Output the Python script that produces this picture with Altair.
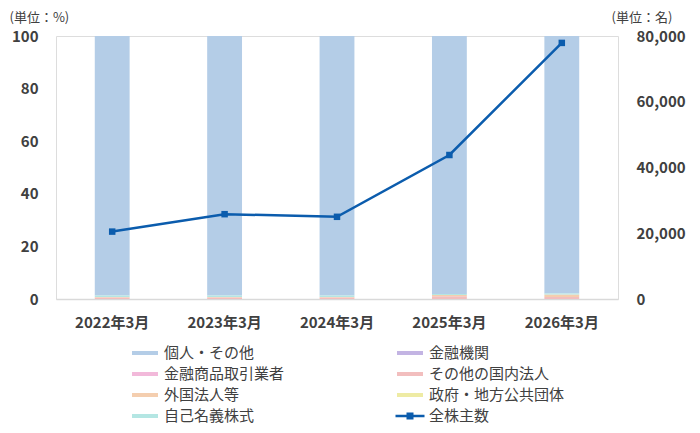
import altair as alt
import pandas as pd

years = ["2022年3月", "2023年3月", "2024年3月", "2025年3月", "2026年3月"]

# shareholder composition (%)
fin_inst = [0.0, 0.0, 0.0, 0.0, 0.0]
securities = [0.0, 0.0, 0.0, 0.0, 0.0]
other_corp = [0.6, 0.6, 0.6, 1.0, 0.8]
foreign = [0.2, 0.2, 0.2, 0.5, 0.9]
government = [0.0, 0.0, 0.0, 0.0, 0.0]
treasury = [0.5, 0.5, 0.5, 0.4, 0.4]
individual = [98.7, 98.7, 98.7, 98.1, 97.9]

# total shareholders (persons)
shareholders = [20500, 25800, 25000, 43800, 77900]

# legend entries, listed column by column (two columns)
legend_names = ["個人・その他", "金融商品取引業者", "外国法人等", "自己名義株式",
                "金融機関", "その他の国内法人", "政府・地方公共団体", "全株主数"]
legend_colors = ["#B4CDE7", "#F2B9DA", "#F4CEAF", "#B4E6E3",
                 "#C3B4E3", "#F2BEBE", "#EEEBA4", "#0B5CAD"]

series_values = {
    "個人・その他": individual,
    "金融機関": fin_inst,
    "金融商品取引業者": securities,
    "その他の国内法人": other_corp,
    "外国法人等": foreign,
    "政府・地方公共団体": government,
    "自己名義株式": treasury,
}
stack_order = {
    "その他の国内法人": 1, "外国法人等": 2, "金融機関": 3, "金融商品取引業者": 4,
    "政府・地方公共団体": 5, "自己名義株式": 6, "個人・その他": 7,
}

rows = []
for name, vals in series_values.items():
    for y, v in zip(years, vals):
        rows.append({"year": y, "series": name, "value": v, "ord": stack_order[name]})
df = pd.DataFrame(rows)
ldf = pd.DataFrame({"year": years, "count": shareholders})
legdf = pd.DataFrame({"series": legend_names})

FONT = "Noto Sans CJK JP"
TXT = "#404040"

rect_path = "M-1.3,-0.2H1.3V0.2H-1.3Z"
line_path = "M-1.45,-0.12H1.45V0.12H-1.45Z M-0.35,-0.35H0.35V0.35H-0.35Z"
legend_shapes = [line_path if n == "全株主数" else rect_path for n in legend_names]

PLOT_H = 263


def make_legend():
    return alt.Legend(
        title=None, orient="none", legendX=79, legendY=307, columns=2,
        columnPadding=110, rowPadding=3, symbolSize=400,
        symbolStrokeWidth=0, symbolOpacity=1, labelOffset=9,
        labelFontSize=15, labelColor=TXT, labelFont=FONT,
    )


color_scale = alt.Scale(domain=legend_names, range=legend_colors)

x_enc = alt.X(
    "year:N", sort=years,
    scale=alt.Scale(paddingInner=0.69, paddingOuter=0.345),
    axis=alt.Axis(title=None, labelAngle=0, ticks=False, domainColor="#D9D9D9",
                  domainWidth=1.5, labelFontSize=15, labelFontWeight="bold",
                  labelColor=TXT, labelPadding=16, labelFont=FONT),
)

bars = alt.Chart(df).mark_bar().encode(
    x=x_enc,
    y=alt.Y(
        "value:Q", stack="zero",
        scale=alt.Scale(domain=[0, 100]),
        axis=alt.Axis(values=[0, 20, 40, 60, 80, 100], grid=False, domain=False,
                      ticks=False, labelPadding=18, labelFontSize=15,
                      labelFontWeight="bold", labelColor=TXT, labelFont=FONT,
                      title="(単位：%)", titleAngle=0, titleAlign="left",
                      titleBaseline="top", titleX=-47, titleY=-25,
                      titleFontSize=13, titleFontWeight="normal",
                      titleColor=TXT, titleFont=FONT),
    ),
    color=alt.Color("series:N", scale=color_scale, legend=make_legend()),
    order=alt.Order("ord:Q", sort="ascending"),
)

line = alt.Chart(ldf).mark_line(
    color="#0B5CAD", strokeWidth=2.5,
    point=alt.OverlayMarkDef(shape="square", filled=True, size=42, color="#0B5CAD", opacity=1),
).encode(
    x=x_enc,
    y=alt.Y(
        "count:Q",
        scale=alt.Scale(domain=[0, 80000]),
        axis=alt.Axis(orient="right", values=[0, 20000, 40000, 60000, 80000],
                      labelExpr="format(datum.value, ',.0f')",
                      grid=False, domain=False, ticks=False, labelPadding=18,
                      labelFontSize=15, labelFontWeight="bold", labelColor=TXT,
                      labelFont=FONT, title="(単位：名)", titleAngle=0,
                      titleAlign="left", titleBaseline="top", titleX=-7, titleY=-25,
                      titleFontSize=13, titleFontWeight="normal", titleColor=TXT,
                      titleFont=FONT),
    ),
)

legend_layer = alt.Chart(legdf).mark_point(filled=True, opacity=0).encode(
    color=alt.Color("series:N", scale=color_scale, legend=make_legend()),
    shape=alt.Shape("series:N", scale=alt.Scale(domain=legend_names, range=legend_shapes),
                    legend=make_legend()),
)

chart = alt.layer(bars, line, legend_layer).resolve_scale(y="independent").properties(
    width=562, height=PLOT_H,
    autosize=alt.AutoSizeParams(type="none"),
    padding={"left": 48, "top": 28, "right": 74, "bottom": 126},
).configure_view(stroke=None).configure(font=FONT)

chart.save("out.html", embed_options={"renderer": "svg", "actions": False})
